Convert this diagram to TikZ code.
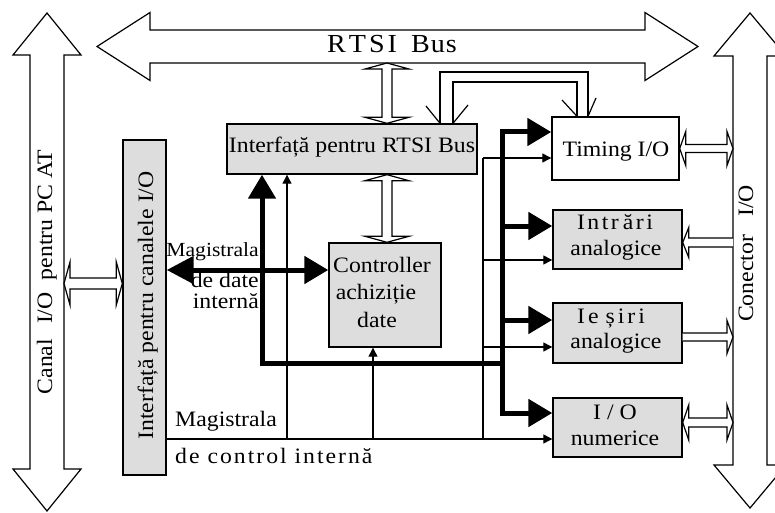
\documentclass[tikz,border=0pt]{standalone}
\usepackage{fontspec}
\setmainfont{Liberation Serif}[FakeStretch=1.08]
\usetikzlibrary{arrows.meta,calc}

\definecolor{boxgray}{RGB}{221,221,221}

% hollow bus arrows: #1,#2 end points, #3 half shaft, #4 half head, #5 head length
\newcommand\busH[5]{\draw[bus] (#1) -- ($(#1)+(#5,-#4)$) -- ($(#1)+(#5,-#3)$) -- ($(#2)+(-#5,-#3)$) -- ($(#2)+(-#5,-#4)$) -- (#2) -- ($(#2)+(-#5,#4)$) -- ($(#2)+(-#5,#3)$) -- ($(#1)+(#5,#3)$) -- ($(#1)+(#5,#4)$) -- cycle;}
\newcommand\busV[5]{\draw[bus] (#1) -- ($(#1)+(#4,#5)$) -- ($(#1)+(#3,#5)$) -- ($(#2)+(#3,-#5)$) -- ($(#2)+(#4,-#5)$) -- (#2) -- ($(#2)+(-#4,-#5)$) -- ($(#2)+(-#3,-#5)$) -- ($(#1)+(-#3,#5)$) -- ($(#1)+(-#4,#5)$) -- cycle;}
% single head at the left end #1, open tail at #2
\newcommand\busL[5]{\draw[bus] ($(#2)+(0,-#3)$) -- ($(#1)+(#5,-#3)$) -- ($(#1)+(#5,-#4)$) -- (#1) -- ($(#1)+(#5,#4)$) -- ($(#1)+(#5,#3)$) -- ($(#2)+(0,#3)$);}
% single head at the right end #2, open tail at #1
\newcommand\busR[5]{\draw[bus] ($(#1)+(0,-#3)$) -- ($(#2)+(-#5,-#3)$) -- ($(#2)+(-#5,-#4)$) -- (#2) -- ($(#2)+(-#5,#4)$) -- ($(#2)+(-#5,#3)$) -- ($(#1)+(0,#3)$);}

\begin{document}
\begin{tikzpicture}[x=1pt,y=-1pt,
  bus/.style={draw=black, line width=1.2pt, line join=miter, fill=white},
  blk/.style={draw=black, line width=1.4pt, fill=boxgray, inner sep=0pt},
  wblk/.style={blk, fill=white},
  lbl/.style={inner sep=0pt, font=\fontsize{22}{26}\selectfont},
  datal/.style={line width=5pt, line cap=rect},
  datar/.style={line width=5pt, -{Triangle[length=24pt,width=27pt]}},
  ctl/.style={line width=1.2pt},
  ctlr/.style={line width=1.2pt, -{Triangle[length=9pt,width=9pt]}}]
\useasboundingbox (0,0) rectangle (775,513);

% ---- main buses ----
\coordinate (rtsiL) at (97,46.5);
\coordinate (rtsiR) at (698,46.5);
\busH{rtsiL}{rtsiR}{16.5}{34}{53}
\node[lbl, anchor=base] (rtsiTxt) at (392,53) {\fontsize{26}{30}\selectfont R\kern3pt T\kern3pt S\kern3pt I\hspace{14pt}B\kern1pt u\kern1pt s};

\coordinate (pcT) at (47,13);
\coordinate (pcB) at (47,511);
\busV{pcT}{pcB}{17}{34}{42}
\node[lbl, rotate=90, anchor=base] (pcTxt) at (52,272) {Canal\hspace{15pt}I/O\hspace{12pt}pentru PC AT};

\coordinate (conT) at (750,13);
\coordinate (conB) at (750,508);
\coordinate (conL) at (733,0);
\busV{conT}{conB}{17}{36}{43}
\node[lbl, rotate=90, anchor=base] (conTxt) at (753,253.5) {Conector\hspace{18pt}I/O};

% ---- blocks ----
\node[blk, minimum width=250pt, minimum height=50pt] (rtsiif) at (352,149) {};
\node[blk, minimum width=43pt, minimum height=335pt] (ioif) at (144.5,307.5) {};
\node[blk, minimum width=112pt, minimum height=104pt] (ctrl) at (385,295) {};
\node[wblk, minimum width=127pt, minimum height=63pt] (timing) at (615.5,148.5) {};
\node[blk, minimum width=129pt, minimum height=59pt] (intrari) at (617.5,239.5) {};
\node[blk, minimum width=129pt, minimum height=60pt] (iesiri) at (617.5,333) {};
\node[blk, minimum width=129pt, minimum height=59pt] (ionum) at (617.5,427.5) {};

\node[lbl, anchor=base] (rtsiifTxt) at (352,153) {Interfață pentru RTSI Bus};
\node[lbl, rotate=90, anchor=base] (ioifTxt) at (153,305.5) {Interfață pentru canalele I/O};
\node[lbl, anchor=base] (ctrlA) at (382,272) {Controller};
\node[lbl, anchor=base] (ctrlB) at (376,299) {achiziție};
\node[lbl, anchor=base] (ctrlC) at (377,327) {date};
\node[lbl, anchor=base] (timingTxt) at (616,157) {Timing I/O};
\node[lbl, anchor=base] (intrA) at (615,229) {I\kern2.5pt n\kern2.5pt t\kern2.5pt r\kern4pt ă\kern2.5pt r\kern2.5pt i};
\node[lbl, anchor=base] (intrB) at (616,255) {analogice};
\node[lbl, anchor=base] (iesA) at (611,323) {I\kern3pt e\kern7pt ș\kern3pt i\kern3pt r\kern3pt i};
\node[lbl, anchor=base] (iesB) at (616,348) {analogice};
\node[lbl, anchor=base] (numA) at (615,419) {I\kern6pt/\kern6pt O};
\node[lbl, anchor=base] (numB) at (615,445) {numerice};

% ---- hollow links ----
\coordinate (l1a) at (387,63);
\coordinate (l1b) at (l1a |- rtsiif.north);
\busV{l1a}{l1b}{5}{22}{6}
\coordinate (l2a) at (l1a |- rtsiif.south);
\coordinate (l2b) at (l1a |- ctrl.north);
\busV{l2a}{l2b}{5}{22}{6}
\coordinate (l3a) at (64,283.5);
\coordinate (l3b) at (ioif.west |- l3a);
\busH{l3a}{l3b}{5.5}{21.5}{6}
\coordinate (l4a) at (timing.east);
\coordinate (l4b) at (conL |- l4a);
\busH{l4a}{l4b}{4}{17}{6}
\coordinate (l5a) at ($(intrari.east)+(0,3)$);
\coordinate (l5b) at (conL |- l5a);
\busL{l5a}{l5b}{4.5}{15}{6}
\coordinate (l6a) at ($(iesiri.east)+(0,4)$);
\coordinate (l6b) at (conL |- l6a);
\busR{l6a}{l6b}{4}{16.5}{6}
\coordinate (l7a) at ($(ionum.east)+(0,-5)$);
\coordinate (l7b) at (conL |- l7a);
\busH{l7a}{l7b}{4.5}{17.5}{6}

% RTSI interface to timing block
\draw[ctl, line join=miter] (440,0 |- rtsiif.north) -- (440,72) -- (588,72) -- (588,0 |- timing.north);
\draw[ctl, line join=miter] (453,0 |- rtsiif.north) -- (453,82) -- (577,82) -- (577,0 |- timing.north);
\draw[ctl] (440,0 |- rtsiif.north) -- (426,106);
\draw[ctl] (453,0 |- rtsiif.north) -- (468,105);
\draw[ctl] (577,0 |- timing.north) -- (562,100);
\draw[ctl] (588,0 |- timing.north) -- (596,98);

% ---- internal data bus ----
\draw[datar, {Triangle[length=27pt,width=27pt]}-{Triangle[length=24pt,width=27pt]}]
  (ioif.east |- 0,270) -- (ctrl.west |- 0,270);
\coordinate (dA) at (262,363);
\coordinate (dB) at (502,363);
\coordinate (dT) at (502,132);
\coordinate (dD) at (502,413);
\draw[datar] (dA) -- (dA |- rtsiif.south);
\draw[datal] (dA) -- (dB);
\draw[datal] (dT) -- (dD);
\draw[datar] (dT) -- (timing.west |- dT);
\draw[datar] (502,226) -- (intrari.west |- 0,226);
\draw[datar] (502,320) -- (iesiri.west |- 0,320);
\draw[datar] (dD) -- (ionum.west |- dD);

\node[lbl, anchor=base east, font=\fontsize{20}{24}\selectfont] (magA) at (259,256) {Magistrala};
\node[lbl, anchor=base east] (magB) at (259,287) {de date};
\node[lbl, anchor=base east] (magC) at (259,308) {internă};

% ---- internal control bus ----
\coordinate (cA) at (ioif.east |- 0,439);
\coordinate (cB) at (483,439);
\coordinate (cT) at (483,158);
\draw[ctl] (cA) -- (cB) -- (cT);
\draw[ctlr] (cT) -- (timing.west |- cT);
\draw[ctlr] (483,260) -- (intrari.west |- 0,260);
\draw[ctlr] (483,347) -- (iesiri.west |- 0,347);
\draw[ctlr] (cB) -- (ionum.west |- cB);
\draw[ctlr] (287,439) -- (287,0 |- rtsiif.south);
\draw[ctlr] (373,439) -- (373,0 |- ctrl.south);

\node[lbl, anchor=base west] (ctlA) at (175,426) {Magistrala};
\node[lbl, anchor=base west] (ctlB) at (175,463) {\addfontfeature{LetterSpace=9}de control internă};
\end{tikzpicture}
\end{document}
